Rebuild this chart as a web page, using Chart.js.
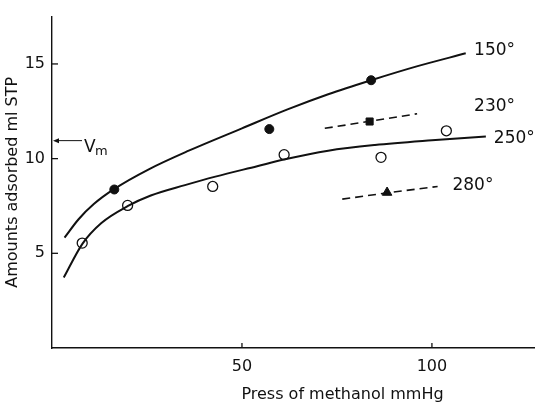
<!DOCTYPE html>
<html>
<head>
<meta charset="utf-8">
<script src="https://cdn.jsdelivr.net/npm/chart.js@4/dist/chart.umd.min.js"></script>
<style>
html,body{margin:0;padding:0;background:#fff;}
canvas{display:block;}
</style>
</head>
<body>
<canvas id="c" width="541" height="405"></canvas>
<script>
// ---- data ----
const xTicks = [50, 100];
const yTicks = [5, 10, 15];
const xTitle = 'Press of methanol mmHg';
const yTitle = 'Amounts adsorbed ml STP';

// fitted curves (solid)
const curve150X = [3.3, 7, 11, 16.4, 25.6, 36, 50, 62, 72.7, 84, 96, 108.9];
const curve150Y = [5.83, 6.8, 7.6, 8.4, 9.45, 10.42, 11.6, 12.6, 13.4, 14.14, 14.87, 15.56];
const curve250X = [3.1, 8, 13, 20, 26, 35, 43, 54, 61, 72.7, 85, 100, 114.2];
const curve250Y = [3.72, 5.5, 6.6, 7.5, 8.05, 8.6, 9.05, 9.6, 9.95, 10.42, 10.72, 10.97, 11.17];
// dashed lines
const dash230X = [71.8, 83.6, 96.1];
const dash230Y = [11.6, 11.97, 12.37];
const dash280X = [76.4, 88.2, 101.5];
const dash280Y = [7.86, 8.19, 8.53];
// measured points
const pts150X = [16.4, 57.2, 84.0];
const pts150Y = [8.37, 11.56, 14.14];
const pts230X = [83.6];
const pts230Y = [11.96];
const pts250X = [7.95, 19.9, 42.3, 61.1, 86.6, 103.8];
const pts250Y = [5.54, 7.53, 8.53, 10.21, 10.07, 11.47];
const pts280X = [88.2];
const pts280Y = [8.21];
// curve labels
const tempLabels = ['150°', '230°', '250°', '280°'];
const tempLabelX = [111.1, 111.1, 116.3, 105.4];
const tempLabelY = [15.68, 12.75, 11.06, 8.56];
// V_m marker
const vmValue = 10.95;

const zip = (xs, ys) => xs.map((x, i) => ({x: x, y: ys[i]}));
const INK = '#111';
const FONT = '"DejaVu Sans", "Liberation Sans", sans-serif';

const overlay = {
  id: 'overlay',
  afterDraw(chart) {
    const ctx = chart.ctx;
    const xs = chart.scales.x, ys = chart.scales.y;
    const ca = chart.chartArea;
    ctx.save();
    ctx.strokeStyle = INK;
    ctx.fillStyle = INK;
    ctx.lineWidth = 1.3;
    // inward tick marks
    xTicks.forEach(v => {
      const px = xs.getPixelForValue(v);
      ctx.beginPath(); ctx.moveTo(px, ca.bottom); ctx.lineTo(px, ca.bottom - 5); ctx.stroke();
    });
    yTicks.forEach(v => {
      const py = ys.getPixelForValue(v);
      ctx.beginPath(); ctx.moveTo(ca.left, py); ctx.lineTo(ca.left + 6, py); ctx.stroke();
    });
    // temperature labels
    ctx.font = '17px ' + FONT;
    ctx.textAlign = 'left';
    ctx.textBaseline = 'middle';
    tempLabels.forEach((t, i) => {
      ctx.fillText(t, xs.getPixelForValue(tempLabelX[i]), ys.getPixelForValue(tempLabelY[i]));
    });
    // V_m arrow
    const vy = ys.getPixelForValue(vmValue);
    const x0 = ca.left, x1 = ca.left + 30;
    ctx.lineWidth = 1;
    ctx.beginPath(); ctx.moveTo(x0 + 5, vy); ctx.lineTo(x1, vy); ctx.stroke();
    ctx.beginPath(); ctx.moveTo(x0 + 1, vy); ctx.lineTo(x0 + 7, vy - 2.5); ctx.lineTo(x0 + 7, vy + 2.5); ctx.closePath(); ctx.fill();
    ctx.font = '17px ' + FONT;
    ctx.textBaseline = 'alphabetic';
    ctx.fillText('V', x1 + 2, vy + 11);
    ctx.font = '13px ' + FONT;
    ctx.fillText('m', x1 + 13, vy + 14);
    // x axis title
    ctx.font = '16px ' + FONT;
    ctx.textAlign = 'center';
    ctx.textBaseline = 'middle';
    ctx.fillText(xTitle, 342.5, 395);
    ctx.restore();
  }
};

new Chart(document.getElementById('c'), {
  type: 'scatter',
  data: {
    datasets: [
      {label: '150° curve', data: zip(curve150X, curve150Y), showLine: true, pointRadius: 0,
       borderColor: INK, borderWidth: 2, cubicInterpolationMode: 'monotone', fill: false},
      {label: '250° curve', data: zip(curve250X, curve250Y), showLine: true, pointRadius: 0,
       borderColor: INK, borderWidth: 2, cubicInterpolationMode: 'monotone', fill: false},
      {label: '230° line', data: zip(dash230X, dash230Y), showLine: true, pointRadius: 0,
       borderColor: INK, borderWidth: 1.6, borderDash: [8, 5], fill: false},
      {label: '280° line', data: zip(dash280X, dash280Y), showLine: true, pointRadius: 0,
       borderColor: INK, borderWidth: 1.6, borderDash: [8, 5], fill: false},
      {label: '150°', data: zip(pts150X, pts150Y), pointStyle: 'circle', pointRadius: 4.5,
       backgroundColor: INK, borderColor: INK, borderWidth: 1},
      {label: '230°', data: zip(pts230X, pts230Y), pointStyle: 'rect', pointRadius: 5,
       backgroundColor: INK, borderColor: INK, borderWidth: 1},
      {label: '250°', data: zip(pts250X, pts250Y), pointStyle: 'circle', pointRadius: 5,
       backgroundColor: '#fff', borderColor: INK, borderWidth: 1.3},
      {label: '280°', data: zip(pts280X, pts280Y), pointStyle: 'triangle', pointRadius: 5.5,
       backgroundColor: INK, borderColor: INK, borderWidth: 1}
    ]
  },
  options: {
    responsive: false,
    animation: false,
    events: [],
    layout: {padding: {top: 15, right: 3, left: 0, bottom: 0}},
    plugins: {legend: {display: false}, tooltip: {enabled: false}},
    scales: {
      x: {
        type: 'linear', min: 0, max: 127,
        grid: {display: false, drawTicks: false},
        border: {display: true, color: INK, width: 1.4},
        afterBuildTicks: s => { s.ticks = xTicks.map(v => ({value: v})); },
        afterFit: s => { s.height = 57; },
        ticks: {padding: 9, color: INK, font: {family: FONT, size: 16}, maxRotation: 0},
        title: {display: false, text: xTitle}
      },
      y: {
        type: 'linear', min: 0, max: 17.5,
        grid: {display: false, drawTicks: false},
        border: {display: true, color: INK, width: 1.4},
        afterBuildTicks: s => { s.ticks = yTicks.map(v => ({value: v})); },
        afterFit: s => { s.width = 52; },
        ticks: {padding: 7, color: INK, font: {family: FONT, size: 16}},
        title: {display: true, text: yTitle, color: INK, font: {family: FONT, size: 16}, padding: {top: 3, bottom: 0}}
      }
    }
  },
  plugins: [overlay]
});
</script>
</body>
</html>
